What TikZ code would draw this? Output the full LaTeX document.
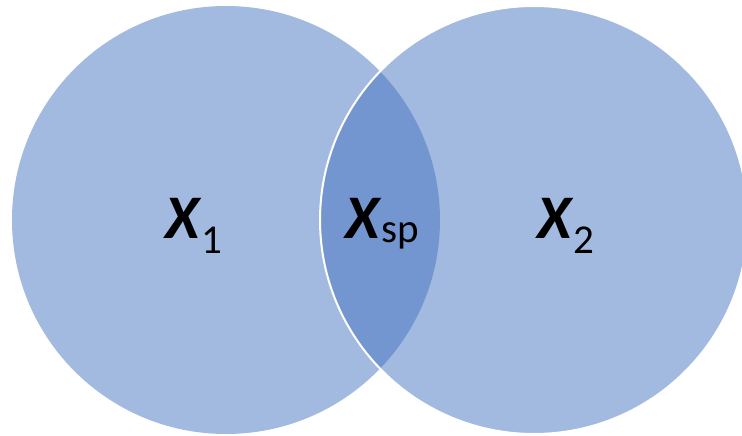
\documentclass[tikz,border=0pt]{standalone}
\usepackage{fontspec}
\setmainfont{Carlito}
\definecolor{setblue}{HTML}{A2B9E0}
\definecolor{sharedblue}{HTML}{7496D0}

\begin{document}
\begin{tikzpicture}[
  x=1pt, y=1pt,
  setlbl/.style={
    anchor=base west, inner sep=0pt,
    font=\fontsize{62}{64}\selectfont
  },
]

\def\rad{214}
\def\subsz{\fontsize{41}{43}\selectfont}

\useasboundingbox (0,0) rectangle (742,436);

\coordinate (c1) at (226,216);
\coordinate (c2) at (534,216);

% the two sets
\fill[setblue] (c1) circle (\rad);
\fill[setblue] (c2) circle (\rad);

% shared part
\begin{scope}
  \clip (c1) circle (\rad);
  \fill[sharedblue] (c2) circle (\rad);
\end{scope}
\draw[white, line width=2pt] (c2) circle (\rad);

\node[setlbl] (x1) at (165,197)
  {\textbf{\textit{X}}\raisebox{-15pt}{\subsz 1}};
\node[setlbl] (xsp) at (345,197)
  {\textbf{\textit{X}}\raisebox{-4pt}{\subsz sp}};
\node[setlbl] (x2) at (537,197)
  {\textbf{\textit{X}}\raisebox{-15pt}{\subsz 2}};

\end{tikzpicture}
\end{document}
